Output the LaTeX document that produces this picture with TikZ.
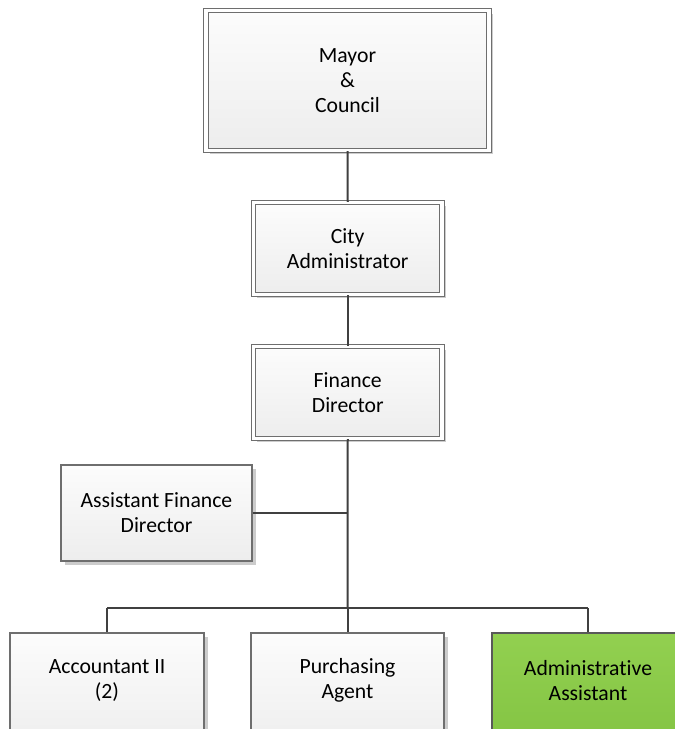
\documentclass[tikz,border=0pt]{standalone}
\usepackage{fontspec}
\setmainfont[Ligatures=NoCommon]{Carlito}
\usetikzlibrary{shadows}
\definecolor{edgegray}{HTML}{6E6E6E}
\definecolor{linkgray}{HTML}{404040}
\definecolor{boxtop}{HTML}{FCFCFC}
\definecolor{boxbot}{HTML}{EDEDED}
\definecolor{greentop}{HTML}{92D050}
\definecolor{greenbot}{HTML}{82C342}
\tikzset{
  orgbox/.style={draw=edgegray, line width=1.1pt, rectangle, inner sep=0pt,
    align=center, top color=boxtop, bottom color=boxbot,
    font=\fontsize{21.7}{25}\selectfont,
    drop shadow={shadow xshift=3.5pt, shadow yshift=-3.5pt, fill=black!20, opacity=1}},
  framedbox/.style={orgbox, double=white, double distance=3.2pt, line width=1.1pt},
  greenbox/.style={orgbox, top color=greentop, bottom color=greenbot, draw=black!65},
  caption/.style={align=center, inner sep=0pt, font=\fontsize{21.7}{25}\selectfont},
  link/.style={draw=linkgray, line width=2pt}
}
\begin{document}
\begin{tikzpicture}[x=1pt, y=-1pt]
\useasboundingbox (0,0) rectangle (675,729);
\clip (0,0) rectangle (675,729);
\fill[white] (0,0) rectangle (675,729);

% junction points of the bottom row
\coordinate (hub) at (347.5,608);
\coordinate (left) at (107,608);
\coordinate (right) at (588,608);

% upper chain
\node[framedbox, minimum width=283pt, minimum height=140pt] (mayor) at (347.5,80.5) {Mayor\\\&\\Council};
\node[framedbox, minimum width=188.5pt, minimum height=92pt] (city) at (347.75,248.5) {City\\Administrator};
\node[framedbox, minimum width=188.5pt, minimum height=92pt] (fin) at (347.75,392.5) {Finance\\Director};
\node[orgbox, minimum width=191pt, minimum height=96pt] (afd) at (156.5,513) {Assistant Finance\\Director};

% bottom row: boxes run off the lower edge, captions sit in their upper part
\node[orgbox, minimum width=194pt, minimum height=120pt] (acc) at (107,693) {};
\node[orgbox, minimum width=193pt, minimum height=120pt] (pur) at (347.5,693) {};
\node[greenbox, minimum width=192pt, minimum height=120pt] (adm) at (588,693) {};
\node[caption] (acc-text) at (107,680.5) {Accountant II\\(2)};
\node[caption] (pur-text) at (347.5,680.5) {Purchasing\\Agent};
\node[caption] (adm-text) at (588,680.5) {Administrative\\Assistant};

\draw[link] (mayor.south) -- (city.north);
\draw[link] (city.south) -- (fin.north);
\draw[link] (fin.south) -- (hub);
\draw[link] (afd.east) -- (afd.east -| hub);
\draw[link] (left) -- (right);
\draw[link] (hub) -- (pur.north);
\draw[link] (left) -- (acc.north);
\draw[link] (right) -- (adm.north);
\end{tikzpicture}
\end{document}
